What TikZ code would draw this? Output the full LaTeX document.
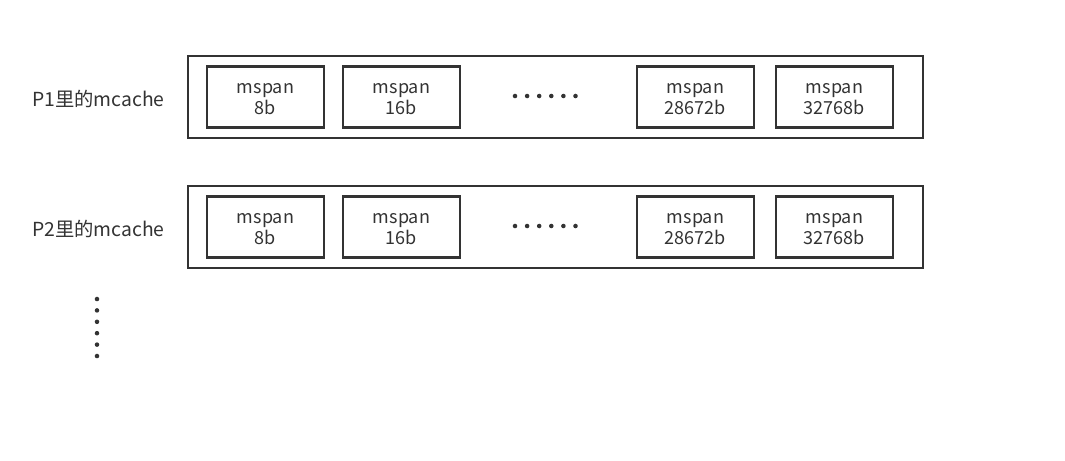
\documentclass[tikz,border=0pt]{standalone}
\usepackage{fontspec}
\setmainfont{Noto Sans CJK SC}
\begin{document}
\begin{tikzpicture}[x=0.75pt,y=-0.75pt,
  outerbox/.style={draw=ink,line width=1.6pt,minimum width=735*0.75pt,minimum height=82*0.75pt,inner sep=0pt},
  spanbox/.style={draw=ink,line width=1.6pt,minimum width=117*0.75pt,minimum height=61*0.75pt,inner sep=0pt,align=center,text=ink,font=\fontsize{13.5}{16}\selectfont},
  lbl/.style={text=ink,font=\fontsize{14.5}{16}\selectfont,inner sep=0pt},
  dot/.style={circle,fill=ink,inner sep=0pt,minimum size=3.4pt}]
\definecolor{ink}{HTML}{333333}
\useasboundingbox (0,0) rectangle (1065,461);
\foreach \r/\y in {1/97,2/227}{
  \node[outerbox] (o\r) at (555.5,\y) {};
  \foreach \n/\x/\t in {a/265.5/8b,b/401.5/16b,c/695.5/28672b,d/834.5/32768b}{
    \node[spanbox] (\n\r) at (\x,\y) {};
    \node[text=ink,align=center,font=\fontsize{13.5}{16}\selectfont,inner sep=0pt] (\n t\r) at (\x,\y+2) {mspan\\\t};
  }
  \node[lbl] (p\r) at (98.5,\y+1.5) {P\r 里的mcache};
  \foreach \i in {0,...,5}{
    \node[dot] (h\r\i) at (515+\i*12.1,\y-1) {};
  }
}
\foreach \i in {0,...,5}{
  \node[dot] (v\i) at (97,299+\i*11.4) {};
}
\end{tikzpicture}
\end{document}
